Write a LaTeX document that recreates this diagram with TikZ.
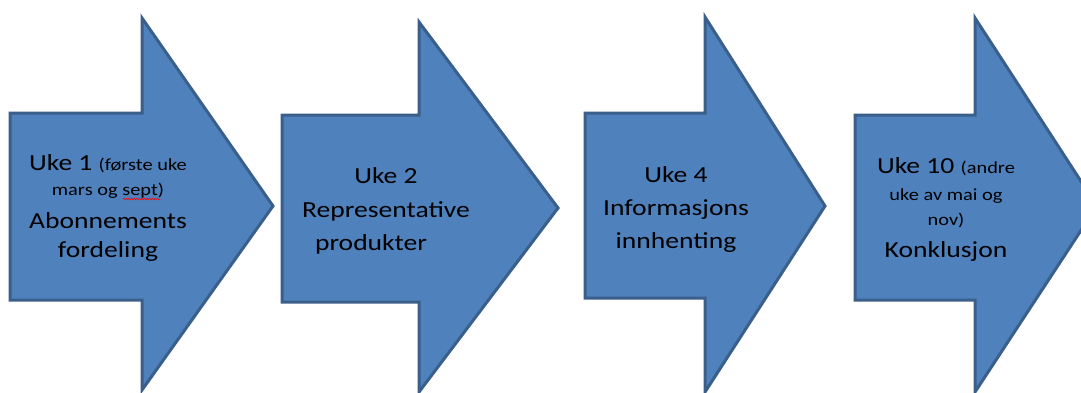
\documentclass[tikz,border=0pt]{standalone}
\usepackage{fontspec}
\newfontfamily\lab[FakeStretch=1.2]{Carlito}
\usetikzlibrary{decorations.pathmorphing}
\definecolor{arrowfill}{HTML}{4F81BD}
\definecolor{arrowline}{HTML}{3A5F8B}
\newcommand{\bigtxt}{\fontsize{23}{28}\selectfont}
\newcommand{\smalltxt}{\fontsize{17}{21}\selectfont}
\tikzset{
  blockarrow/.style={fill=arrowfill, draw=arrowline, line width=3pt, line join=miter},
  lbl/.style={anchor=base, inner sep=0pt, font=\lab\bigtxt, text=black},
}
\begin{document}
\begin{tikzpicture}[x=1pt,y=-1pt]
\clip (0,0) rectangle (1081,392);
\fill[white] (0,0) rectangle (1081,392);
% arrow 1
\draw[blockarrow] (10,113) -- (142,113) -- (142,18) -- (273,206) -- (142,390) -- (142,300) -- (10,300) -- cycle;
% arrow 2
\draw[blockarrow] (282,115) -- (419,115) -- (419,22) -- (558,208) -- (419,392) -- (419,302) -- (282,302) -- cycle;
% arrow 3
\draw[blockarrow] (585,113) -- (705,113) -- (705,17) -- (825,206) -- (705,392) -- (705,298) -- (585,298) -- cycle;
% arrow 4
\draw[blockarrow] (855,115) -- (975,115) -- (975,18) -- (1097,206) -- (975,392) -- (975,300) -- (855,300) -- cycle;

% texts arrow 1
\node[lbl] (a1a) at (108,170) {Uke 1 {\smalltxt(første uke}};
\node[lbl, font=\lab\smalltxt] (a1b) at (108,195) {mars og sept)};
\node[lbl] (a1c) at (108,228) {Abonnements};
\node[lbl] (a1d) at (108,257) {fordeling};
\draw[red, line width=0.6pt, decorate, decoration={snake, amplitude=0.8pt, segment length=2.6pt}] (123,199) -- (160,199);
% texts arrow 2
\node[lbl] (a2a) at (386,183) {Uke 2};
\node[lbl] (a2b) at (386,217) {Representative};
\node[lbl] (a2c) at (371,250) {produkter};
% texts arrow 3
\node[lbl] (a3a) at (676,182) {Uke 4};
\node[lbl] (a3b) at (676,215) {Informasjons};
\node[lbl] (a3c) at (676,248) {innhenting};
% texts arrow 4
\node[lbl] (a4a) at (946,173) {Uke 10 {\smalltxt(andre}};
\node[lbl, font=\lab\smalltxt] (a4b) at (946,200) {uke av mai og};
\node[lbl, font=\lab\smalltxt] (a4c) at (946,225) {nov)};
\node[lbl] (a4d) at (946,257) {Konklusjon};
\end{tikzpicture}
\end{document}
